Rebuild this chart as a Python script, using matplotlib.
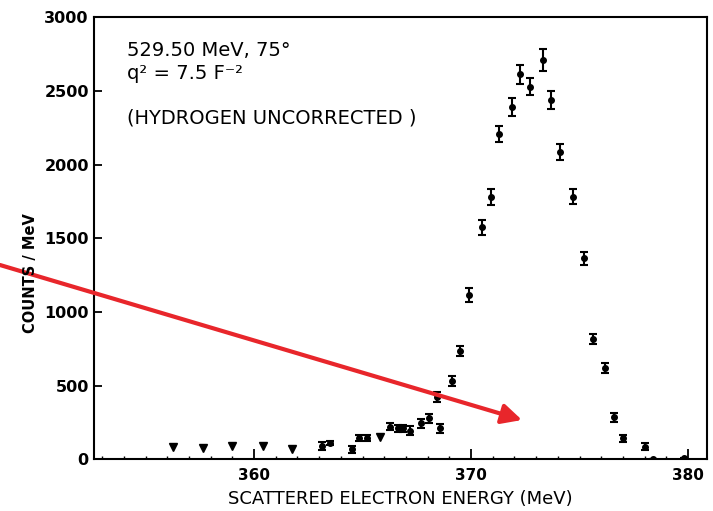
import matplotlib
matplotlib.use('Agg')
import matplotlib.pyplot as plt

# low energy points drawn as down triangles (no visible error bar)
tri_energy = [356.25, 357.65, 359.0, 360.4, 361.75, 365.8]
tri_counts = [85, 75, 90, 92, 68, 150]

# measured points with error bars
energy = [363.15, 363.5, 364.5, 364.85, 365.2, 366.25, 366.65, 366.85, 367.2,
          367.7, 368.05, 368.45, 368.55, 369.1, 369.5, 369.9, 370.5, 370.9,
          371.3, 371.9, 372.25, 372.7, 373.3, 373.7, 374.1, 374.7, 375.2,
          375.6, 376.15, 376.6, 377.0, 378.0, 378.4, 379.8]
counts = [90, 110, 68, 143, 143, 221, 210, 210, 194,
          244, 278, 425, 210, 530, 735, 1115, 1575, 1780,
          2208, 2390, 2614, 2530, 2711, 2440, 2085, 1783, 1365,
          815, 618, 285, 143, 86, 0, 8]
errors = [25, 15, 25, 20, 20, 25, 25, 25, 30,
          30, 30, 35, 30, 35, 35, 45, 50, 55,
          55, 60, 65, 60, 75, 60, 55, 50, 45,
          35, 35, 30, 25, 25, 0, 0]

fig = plt.figure(figsize=(7.13, 5.11), dpi=100)
ax = fig.add_axes([0.1323, 0.1012, 0.8589, 0.8649])

ax.errorbar(energy, counts, yerr=errors, fmt='o', color='black', ms=4,
            elinewidth=1.5, capsize=3, capthick=1.5)
ax.plot(tri_energy, tri_counts, 'v', color='black', ms=6)

ax.set_xlim(352.64, 380.86)
ax.set_ylim(0, 3000)
ax.set_xticks([360, 370, 380])
ax.set_xticks(range(353, 381), minor=True)
ax.set_yticks(range(0, 3001, 500))

for s in ax.spines.values():
    s.set_linewidth(1.5)
ax.tick_params(axis='x', which='major', direction='in', length=7, width=1.3,
               pad=6, labelsize=11)
ax.tick_params(axis='x', which='minor', direction='in', length=2.5, width=1)
ax.tick_params(axis='y', direction='in', length=6, width=1.3, pad=4,
               labelsize=11.5)
for lab in ax.get_xticklabels() + ax.get_yticklabels():
    lab.set_fontweight('bold')

fig.text(30 / 713, 1 - 273 / 511, 'COUNTS / MeV', rotation=90, ha='center',
         va='center', fontsize=10.5, fontweight='bold')
fig.text(400 / 713, 1 - 499 / 511, 'SCATTERED ELECTRON ENERGY (MeV)',
         ha='center', va='center', fontsize=13)

ax.text(0.053, 0.926, '529.50 MeV, 75°', transform=ax.transAxes,
        fontsize=14, va='center', ha='left')
ax.text(0.053, 0.872, 'q² = 7.5 F⁻²', transform=ax.transAxes,
        fontsize=14, va='center', ha='left')
ax.text(0.053, 0.772, '(HYDROGEN UNCORRECTED )', transform=ax.transAxes,
        fontsize=14, va='center', ha='left')

# red arrow drawn over the whole figure
ax.annotate('', xy=(522, 511 - 420), xytext=(0, 511 - 265),
            xycoords='figure pixels', textcoords='figure pixels',
            arrowprops=dict(arrowstyle='-|>', color='#e8262b', lw=3,
                            mutation_scale=30, shrinkA=0, shrinkB=0),
            annotation_clip=False)

fig.savefig('out.png', dpi=100)
